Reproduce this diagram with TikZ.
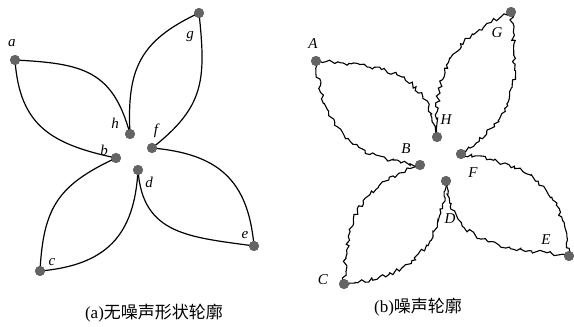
\documentclass[tikz,border=0pt]{standalone}
\usepackage{fontspec}
\setmainfont{Liberation Serif}
\newfontfamily\cjk{Noto Sans CJK SC}
\usetikzlibrary{decorations.pathmorphing}
\definecolor{dotgray}{RGB}{100,100,100}
\tikzset{
  dot/.style={circle,fill=dotgray,inner sep=0pt,minimum size=10pt},
  curve/.style={line width=1.2pt,black},
  noisy/.style={line width=1.1pt,black,decorate,decoration={random steps,segment length=3pt,amplitude=2pt}},
  lbl/.style={font=\fontsize{15}{17}\selectfont\itshape,inner sep=0pt},
  captext/.style={font=\fontsize{17}{19}\selectfont,inner sep=0pt}
}
\begin{document}
\begin{tikzpicture}[x=1pt,y=1pt]
\useasboundingbox (0,0) rectangle (574,327);
\pgfmathsetseed{7}
% left figure nodes
\node[dot] (a) at (15,267) {};
\node[dot] (g) at (199,314) {};
\node[dot] (h) at (130,193) {};
\node[dot] (f) at (152,179) {};
\node[dot] (b) at (116,169) {};
\node[dot] (d) at (138,157) {};
\node[dot] (e) at (254,81) {};
\node[dot] (c) at (40,56) {};
% left curves
\draw[curve] (a.center) to[out=-3,in=105,looseness=1.25] (h.center);
\draw[curve] (a.center) to[out=-86,in=168,looseness=1.2] (b.center);
\draw[curve] (g.center) to[out=205,in=93,looseness=1.2] (h.center);
\draw[curve] (g.center) to[out=-84,in=38,looseness=1.2] (f.center);
\draw[curve] (f.center) to[out=-5,in=95,looseness=1.2] (e.center);
\draw[curve] (d.center) to[out=-86,in=172,looseness=1.2] (e.center);
\draw[curve] (b.center) to[out=205,in=87,looseness=1.2] (c.center);
\draw[curve] (d.center) to[out=-93,in=5,looseness=1.2] (c.center);
% redraw dots on top
\foreach \n in {a,g,h,f,b,d,e,c} \fill[dotgray] (\n.center) circle (5pt);
% left labels
\node[lbl] (la) at (12,284) {a};
\node[lbl] (lg) at (190,290) {g};
\node[lbl] (lh) at (115,204) {h};
\node[lbl] (lf) at (156,196) {f};
\node[lbl] (lb) at (104,177) {b};
\node[lbl] (ld) at (149,145) {d};
\node[lbl] (le) at (245,92) {e};
\node[lbl] (lc) at (52,65) {c};
% right figure nodes
\node[dot] (A) at (316,266) {};
\node[dot] (G) at (511,315) {};
\node[dot] (H) at (437,190) {};
\node[dot] (F) at (461,173) {};
\node[dot] (B) at (420,162) {};
\node[dot] (D) at (446,146) {};
\node[dot] (E) at (569,71) {};
\node[dot] (C) at (344,43) {};
% right noisy curves
\draw[noisy] (A.center) to[out=-5,in=100,looseness=1.25] (H.center);
\draw[noisy] (A.center) to[out=-84,in=175,looseness=1.2] (B.center);
\draw[noisy] (G.center) to[out=205,in=92,looseness=1.2] (H.center);
\draw[noisy] (G.center) to[out=-84,in=35,looseness=1.2] (F.center);
\draw[noisy] (F.center) to[out=-8,in=95,looseness=1.2] (E.center);
\draw[noisy] (D.center) to[out=-85,in=172,looseness=1.2] (E.center);
\draw[noisy] (B.center) to[out=200,in=88,looseness=1.2] (C.center);
\draw[noisy] (D.center) to[out=-95,in=5,looseness=1.2] (C.center);
\foreach \n in {A,G,H,F,B,D,E,C} \fill[dotgray] (\n.center) circle (5pt);
% right labels
\node[lbl] (lA) at (313,283) {A};
\node[lbl] (lG) at (497,294) {G};
\node[lbl] (lH) at (446,207) {H};
\node[lbl] (lF) at (473,154) {F};
\node[lbl] (lB) at (406,178) {B};
\node[lbl] (lD) at (450,108) {D};
\node[lbl] (lE) at (546,87) {E};
\node[lbl] (lC) at (323,47) {C};
% captions
\node[captext] (capa) at (154,14) {(a)\cjk 无噪声形状轮廓};
\node[captext] (capb) at (418,20) {(b)\cjk 噪声轮廓};
\end{tikzpicture}
\end{document}
